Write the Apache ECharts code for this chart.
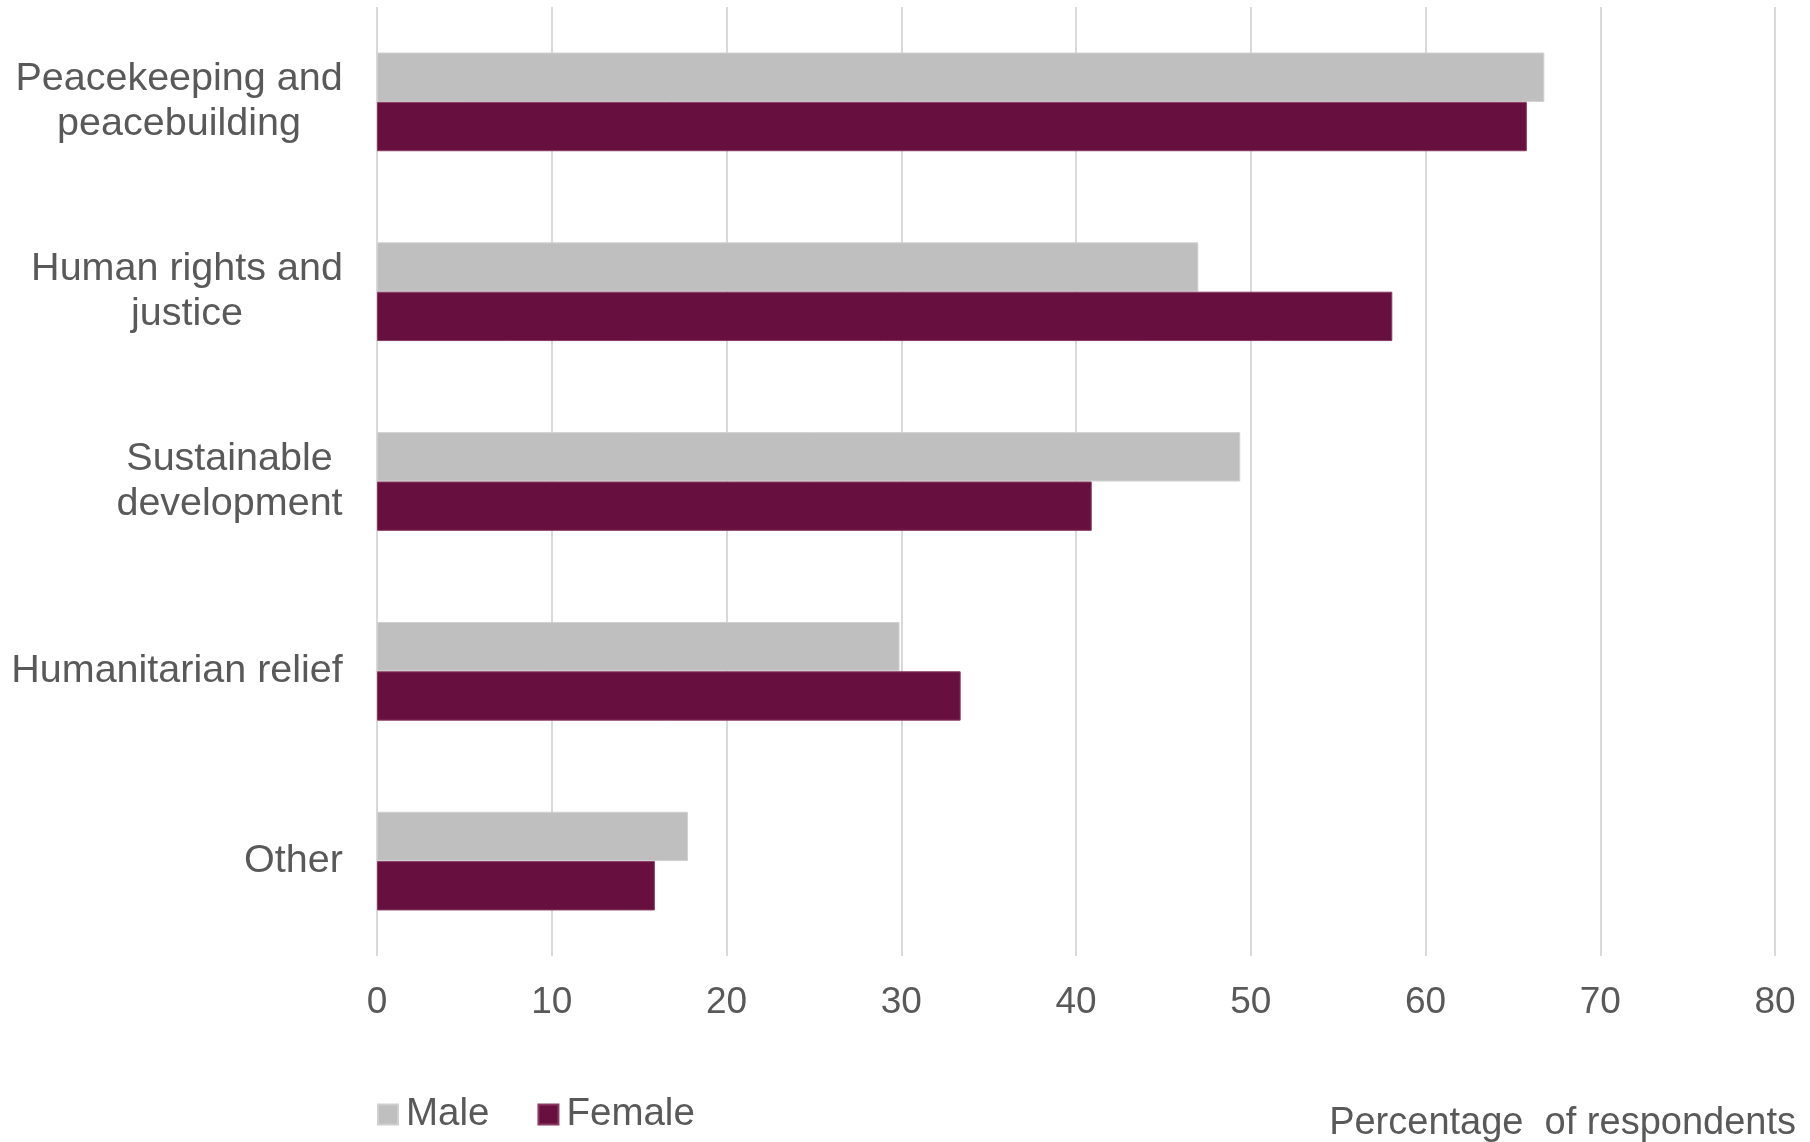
<!DOCTYPE html>
<html>
<head>
<meta charset="utf-8">
<script src="https://cdn.jsdelivr.net/npm/echarts@6/dist/echarts.min.js"></script>
<style>
html,body{margin:0;padding:0;background:#fff;}
#main{width:1810px;height:1142px;}
</style>
</head>
<body>
<div id="main"></div>
<script>
const categories = [
  "Peacekeeping and\npeacebuilding",
  "Human rights and\njustice",
  "Sustainable\ndevelopment",
  "Humanitarian relief",
  "Other"
];
const seriesNames = ["Male", "Female"];
const maleValues = [66.8, 47.0, 49.4, 29.9, 17.8];
const femaleValues = [65.8, 58.1, 40.9, 33.4, 15.9];
const xTicks = [0, 10, 20, 30, 40, 50, 60, 70, 80];
const axisTitle = "Percentage  of respondents";

const FONT = '"Liberation Sans", Arial, sans-serif';
const CAT_SIZE = 39.5;
const TICK_SIZE = 37;
const LEGEND_SIZE = 38.5;
const TITLE_SIZE = 38;
const TEXT_COLOR = '#595959';

// measure widths to center lines within right-aligned label blocks
const cv = document.createElement('canvas').getContext('2d');
cv.font = CAT_SIZE + 'px ' + FONT;
const rich = {};
const catFormatted = {};
categories.forEach((c, i) => {
  const lines = c.split('\n');
  const w = Math.max(...lines.map(l => cv.measureText(l).width));
  const key = 'c' + i;
  rich[key] = { width: Math.ceil(w), align: 'center', fontSize: CAT_SIZE, fontFamily: FONT, color: TEXT_COLOR, lineHeight: 45 };
  catFormatted[c] = lines.map(l => '{' + key + '|' + l + '}').join('\n');
});

const chart = echarts.init(document.getElementById('main'), null, { renderer: 'canvas' });
chart.setOption({
  backgroundColor: '#ffffff',
  animation: false,
  title: {
    text: axisTitle,
    right: 9,
    top: 1100,
    textStyle: { fontFamily: FONT, fontSize: TITLE_SIZE, fontWeight: 'normal', color: TEXT_COLOR }
  },
  legend: {
    data: seriesNames,
    left: 372,
    top: 1090,
    icon: 'rect',
    itemWidth: 20,
    itemHeight: 20,
    itemGap: 48,
    textStyle: { fontFamily: FONT, fontSize: LEGEND_SIZE, color: TEXT_COLOR, padding: [0, 0, 0, 3] }
  },
  grid: { left: 377, right: 35, top: 7, bottom: 186, containLabel: false },
  xAxis: {
    type: 'value',
    min: xTicks[0],
    max: xTicks[xTicks.length - 1],
    interval: xTicks[1] - xTicks[0],
    axisLine: { show: false },
    axisTick: { show: false },
    splitLine: { show: true, lineStyle: { color: '#D9D9D9', width: 2 } },
    axisLabel: { fontFamily: FONT, fontSize: TICK_SIZE, color: TEXT_COLOR, margin: 28 }
  },
  yAxis: {
    type: 'category',
    data: categories,
    inverse: true,
    axisLine: { show: false },
    axisTick: { show: false },
    axisLabel: {
      margin: 34,
      align: 'right',
      formatter: v => catFormatted[v],
      rich: rich,
      fontFamily: FONT, fontSize: CAT_SIZE, color: TEXT_COLOR, lineHeight: 45
    }
  },
  series: [
    {
      name: seriesNames[0], type: 'bar', data: maleValues,
      barGap: '0%', barCategoryGap: '48%',
      itemStyle: { color: '#BFBFBF', borderColor: '#D0D0D0', borderWidth: 1 }
    },
    {
      name: seriesNames[1], type: 'bar', data: femaleValues,
      barGap: '0%', barCategoryGap: '48%',
      itemStyle: { color: '#67103F', borderColor: '#8A3A62', borderWidth: 1 }
    }
  ]
});
</script>
</body>
</html>
